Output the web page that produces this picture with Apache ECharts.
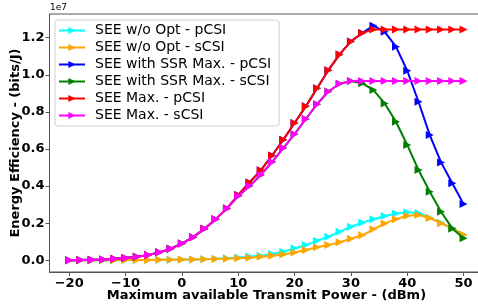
<!DOCTYPE html>
<html>
<head>
<meta charset="utf-8">
<script src="https://cdn.jsdelivr.net/npm/echarts@6/dist/echarts.min.js"></script>
<style>html,body{margin:0;padding:0;background:#fff;}#c{width:478px;height:305px;}</style>
</head>
<body>
<div id="c"></div>
<script>
// Transmit power (dBm)
var power = [-20,-18,-16,-14,-12,-10,-8,-6,-4,-2,0,2,4,6,8,10,12,14,16,18,20,22,24,26,28,30,32,34,36,38,40,42,44,46,48,50];
// Values in units of 1e7 bits/J
var seeWoOptP = [0,0,0,0.0005,0.001,0.0015,0.002,0.002,0.003,0.003,0.004,0.005,0.006,0.008,0.011,0.015,0.020,0.025,0.034,0.046,0.065,0.082,0.106,0.127,0.154,0.181,0.203,0.221,0.239,0.252,0.259,0.255,0.230,0.202,0.173,0.138];
var seeWoOptS = [0,0,0,0.0005,0.001,0.0015,0.002,0.002,0.003,0.003,0.004,0.005,0.006,0.007,0.009,0.011,0.014,0.019,0.025,0.031,0.042,0.056,0.070,0.082,0.097,0.116,0.135,0.167,0.199,0.222,0.240,0.244,0.228,0.200,0.172,0.138];
var seeSsrP = [0,0.002,0.003,0.004,0.009,0.013,0.019,0.028,0.043,0.063,0.090,0.125,0.170,0.222,0.280,0.352,0.420,0.485,0.565,0.650,0.740,0.830,0.928,1.025,1.110,1.180,1.225,1.265,1.232,1.152,1.022,0.855,0.675,0.528,0.415,0.303];
var seeSsrS = [0,0.002,0.003,0.004,0.009,0.013,0.019,0.028,0.043,0.063,0.090,0.125,0.170,0.222,0.280,0.347,0.400,0.460,0.530,0.605,0.680,0.762,0.842,0.910,0.952,0.967,0.955,0.918,0.846,0.747,0.622,0.487,0.370,0.262,0.172,0.119];
var seeMaxP = [0,0.002,0.003,0.004,0.009,0.013,0.019,0.028,0.043,0.063,0.090,0.125,0.170,0.222,0.280,0.352,0.420,0.485,0.565,0.650,0.740,0.830,0.928,1.025,1.110,1.180,1.225,1.245,1.245,1.245,1.245,1.245,1.245,1.245,1.245,1.245];
var seeMaxS = [0,0.002,0.003,0.004,0.009,0.013,0.019,0.028,0.043,0.063,0.090,0.125,0.170,0.222,0.280,0.347,0.400,0.460,0.530,0.605,0.680,0.762,0.842,0.910,0.952,0.967,0.967,0.967,0.967,0.967,0.967,0.967,0.967,0.967,0.967,0.967];
var xTicks = [-20,-10,0,10,20,30,40,50];
var yTicks = [0,0.2,0.4,0.6,0.8,1.0,1.2];

var names = ['SEE w/o Opt - pCSI','SEE w/o Opt - sCSI','SEE with SSR Max. - pCSI','SEE with SSR Max. - sCSI','SEE Max. - pCSI','SEE Max. - sCSI'];
var colors = ['#00ffff','#ffa500','#0000ff','#008000','#ff0000','#ff00ff'];
var sets = [seeWoOptP, seeWoOptS, seeSsrP, seeSsrS, seeMaxP, seeMaxS];
var tri = 'path://M0,0L10,5L0,10Z';

var series = sets.map(function(arr, i){
  return {
    name: names[i], type: 'line',
    data: power.map(function(p, j){ return [p, arr[j]]; }),
    symbol: tri, symbolSize: 8, showSymbol: true,
    lineStyle: {color: colors[i], width: 2},
    itemStyle: {color: colors[i]},
    z: 2 + i
  };
});

var font = 'DejaVu Sans';
var chart = echarts.init(document.getElementById('c'), null, {renderer: 'canvas'});
chart.setOption({
  animation: false,
  backgroundColor: '#fff',
  grid: {left: 49.5, right: -5.3, top: 14, bottom: 33, show: true, borderColor: '#555', borderWidth: 1, backgroundColor: 'transparent', outerBoundsMode: 'none', containLabel: false},
  xAxis: {
    type: 'value', min: -23.5, max: 53.5,
    name: 'Maximum available Transmit Power - (dBm)', nameLocation: 'middle', nameGap: 17, nameMoveOverlap: false,
    nameTextStyle: {fontFamily: font, fontWeight: 'bold', fontSize: 13, color: '#000', verticalAlign: 'top'},
    axisLine: {show: true, onZero: false, lineStyle: {color: '#555'}},
    axisTick: {show: true, length: 4, lineStyle: {color: '#555'}, customValues: xTicks},
    axisLabel: {customValues: xTicks, fontFamily: font, fontWeight: 'bold', fontSize: 13, color: '#000', margin: 5,
      formatter: function(v){ return String(v).replace('-', '\u2212'); }},
    splitLine: {show: false}
  },
  yAxis: {
    type: 'value', min: -0.063, max: 1.328,
    name: 'Energy Efficiency - (bits/J)', nameLocation: 'middle', nameGap: 27, nameMoveOverlap: false,
    nameTextStyle: {fontFamily: font, fontWeight: 'bold', fontSize: 13, color: '#000', verticalAlign: 'bottom'},
    axisLine: {show: true, onZero: false, lineStyle: {color: '#555'}},
    axisTick: {show: true, length: 4, lineStyle: {color: '#555'}, customValues: yTicks},
    axisLabel: {customValues: yTicks, fontFamily: font, fontWeight: 'bold', fontSize: 13, color: '#000', margin: 5,
      formatter: function(v){ return v.toFixed(1); }},
    splitLine: {show: false}
  },
  legend: {
    orient: 'vertical', left: 55, top: 20,
    itemWidth: 26, itemHeight: 9, itemGap: 2,
    padding: [3, 8, 3, 3],
    backgroundColor: 'rgba(255,255,255,0.8)', borderColor: '#d0d0d0', borderWidth: 1, borderRadius: 3,
    textStyle: {fontFamily: font, fontSize: 14, color: '#000', lineHeight: 15, padding: [0, 0, 0, 5]},
    data: names
  },
  graphic: [{type: 'text', left: 50, top: 3, style: {text: '1e7', fontFamily: font, fontSize: 9, fill: '#000'}}],
  series: series
});
</script>
</body>
</html>
